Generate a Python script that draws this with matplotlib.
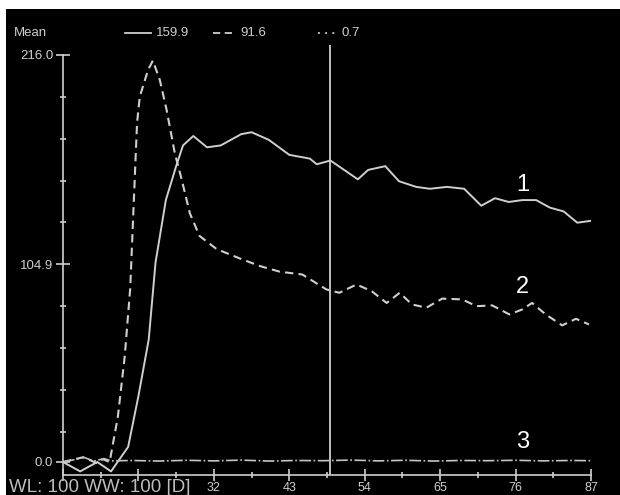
import matplotlib
matplotlib.use('Agg')
import matplotlib.pyplot as plt
from matplotlib.lines import Line2D
from matplotlib.patches import Rectangle
import numpy as np

# curve 1 (solid)
x1 = [10, 12.5, 15, 17, 19.5, 21, 22.5, 23.5, 25, 26.5, 27.5, 29, 31, 33, 36, 37.5,
      40, 43, 46, 47, 49, 53, 54.5, 57, 59, 61.5, 63.5, 66, 68.5, 71, 73, 75, 77,
      79, 81, 83, 85, 87]
y1 = [0, -5, 0, -5, 8, 35, 65, 106, 139, 157, 168, 173, 167, 168, 174, 175,
      171, 163, 161, 158, 160, 150, 155, 157, 149, 146, 145, 146, 145, 136, 140, 138, 139,
      139, 135, 133, 127, 128]

# curve 2 (dashed)
x2 = [10, 12.9, 14.9, 15.8, 16.8, 18.0, 19.0, 19.8, 20.3, 20.8, 21.2, 22.4, 23.1, 24.1,
      25.1, 26.3, 27.3, 28.5, 29.9, 32.4, 35.8, 38.7, 41.6, 44.9, 48.4, 50.3, 52.8, 55.0,
      57.2, 59.1, 60.9, 63.0, 65.3, 68.2, 70.3, 72.6, 75.1, 77.0, 78.4, 80.4, 82.8, 84.8, 86.7]
y2 = [0, 2.5, -0.5, 1.5, 0, 24, 56, 92, 136, 180, 194, 208, 213, 203,
      187, 164, 150, 132, 120, 113, 108, 104, 101, 99.5, 91.6, 89.8, 94.2, 90.7,
      84.4, 89.8, 83.6, 81.9, 86.7, 86.3, 82.7, 83.1, 78.3, 81, 84.4, 78.3, 72.5, 76, 73]

# curve 3 (dash-dot, near zero)
x3 = [10, 12, 13, 14.5, 16, 17, 20, 24, 28, 32, 36, 40, 44, 48, 52, 56, 60, 64, 68,
      72, 76, 80, 84, 87]
y3 = [0, 1.5, 2.5, 0.5, 1.8, 0.6, 0.8, 0.5, 0.9, 0.6, 1.0, 0.5, 0.8, 0.7, 1.0, 0.6,
      0.9, 0.5, 0.8, 0.7, 0.9, 0.6, 0.8, 0.7]

legend_vals = ['159.9', '91.6', '0.7']
xticks = [10, 21, 32, 43, 54, 65, 76, 87]
xticklabels = ['', '', '32', '43', '54', '65', '76', '87']
yticks = [0.0, 104.9, 216.0]
cursor_x = 49
curve_labels = ['1', '2', '3']

W, H = 620, 495
fg = '#cfcfcf'
plt.rcParams['font.family'] = ['Liberation Sans', 'DejaVu Sans']


def fx(px):
    return px / W


def fy(py):
    return 1 - py / H


fig = plt.figure(figsize=(W / 100, H / 100), dpi=100, facecolor='white')
fig.add_artist(Rectangle((fx(6), 0), 1, fy(9), transform=fig.transFigure,
                         facecolor='black', edgecolor='none', zorder=0))

ax = fig.add_axes([fx(63), fy(475), fx(591) - fx(63), fy(45) - fy(475)])
ax.set_facecolor('none')
ax.set_xlim(10, 87)
ax.set_ylim(-6.9, 221.3)

ax.plot(x1, y1, color=fg, lw=1.4)
ax.plot(x2, y2, color=fg, lw=1.5, dashes=(4, 2.5))
ax.plot(x3, y3, color='#c4c4c4', lw=1.2, dashes=(7, 1.5, 1, 1.5))
ax.axvline(cursor_x, color=fg, lw=1.3)

for s in ['top', 'right']:
    ax.spines[s].set_visible(False)
ax.spines['left'].set_color(fg)
ax.spines['bottom'].set_color(fg)
ax.spines['left'].set_linewidth(1.2)
ax.spines['bottom'].set_linewidth(1.2)
ax.spines['left'].set_bounds(-6.9, 216)

ax.set_yticks(yticks)
ax.set_yticklabels(['%.1f' % v for v in yticks])
ax.set_yticks([216 - 22.22 * k for k in range(1, 10)], minor=True)
ax.set_xticks(xticks)
ax.set_xticklabels(xticklabels)
ax.set_xticks([(a + b) / 2 for a, b in zip(xticks[:-1], xticks[1:])], minor=True)

ax.tick_params(axis='y', which='major', direction='inout', length=10, width=1.2,
               colors=fg, labelsize=9.5, pad=2)
ax.tick_params(axis='y', which='minor', direction='inout', length=5, width=1.2, colors=fg)
ax.tick_params(axis='x', which='major', direction='inout', length=8, width=1.2,
               colors=fg, labelsize=9, pad=1)
ax.tick_params(axis='x', which='minor', direction='inout', length=4, width=1.2, colors=fg)

# curve numbers
for lab, yv in zip(curve_labels, [147, 93, 10.6]):
    ax.text(77, yv, lab, color='white', fontsize=17, ha='center', va='center')

# header / legend
fig.text(fx(14), fy(33), 'Mean', color=fg, fontsize=9.5, va='center')
fig.add_artist(Line2D([fx(125), fx(151)], [fy(33), fy(33)], color=fg, lw=1.3))
fig.text(fx(156), fy(33), legend_vals[0], color=fg, fontsize=9.5, va='center')
fig.add_artist(Line2D([fx(213), fx(236)], [fy(33), fy(33)], color=fg, lw=1.3,
                      dashes=(4, 2.5)))
fig.text(fx(240), fy(33), legend_vals[1], color=fg, fontsize=9.5, va='center')
fig.add_artist(Line2D([fx(318), fx(336)], [fy(33), fy(33)], color=fg, lw=1.3,
                      dashes=(1, 3)))
fig.text(fx(342), fy(33), legend_vals[2], color=fg, fontsize=9.5, va='center')

fig.text(fx(9), fy(487), 'WL: 100 WW: 100 [D]', color='#bdbdbd', fontsize=13.5,
         va='center')

fig.savefig('out.png', dpi=100, facecolor=fig.get_facecolor())
